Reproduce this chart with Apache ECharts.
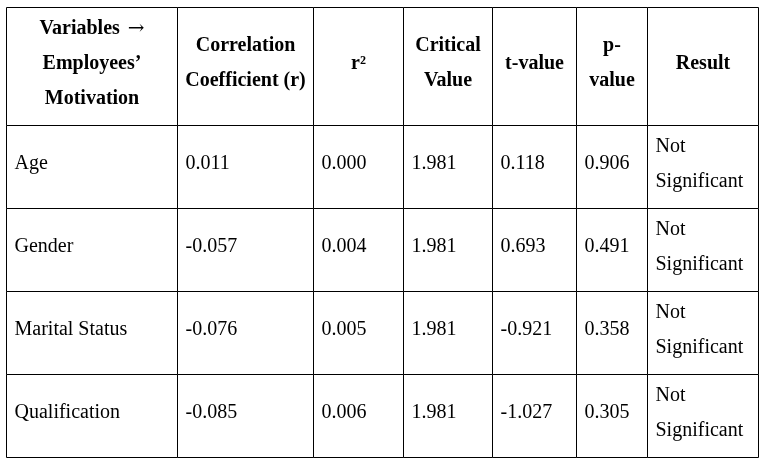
<!DOCTYPE html>
<html>
<head>
<meta charset="utf-8">
<script src="https://cdn.jsdelivr.net/npm/echarts@6/dist/echarts.min.js"></script>
<style>
  html, body { margin: 0; padding: 0; background: #fff; }
  #table { width: 765px; height: 465px; }
</style>
</head>
<body>
<div id="table"></div>
<script>
// table content
var headers = ['Variables {arrow|\u2192}\nEmployees\u2019\nMotivation', 'Correlation\nCoefficient (r)', 'r\u00b2', 'Critical\nValue', 't-value', 'p-\nvalue', 'Result'];
var variables = ['Age', 'Gender', 'Marital Status', 'Qualification'];
var corrR = ['0.011', '-0.057', '-0.076', '-0.085'];
var rSquared = ['0.000', '0.004', '0.005', '0.006'];
var criticalValue = ['1.981', '1.981', '1.981', '1.981'];
var tValue = ['0.118', '0.693', '-0.921', '-1.027'];
var pValue = ['0.906', '0.491', '0.358', '0.305'];
var result = ['Not\nSignificant', 'Not\nSignificant', 'Not\nSignificant', 'Not\nSignificant'];

// layout (table units, same as axis units)
var colEdges = [0, 171, 307, 397, 486, 570, 641, 752];
var rowEdges = [0, 118, 201, 284, 367, 450];

var columns = [variables, corrR, rSquared, criticalValue, tValue, pValue, result];

// cells: [col, row, text, isHeader]
var cells = [];
headers.forEach(function (h, c) {
    cells.push([c, 0, h, 1]);
});
for (var r = 0; r < variables.length; r++) {
    for (var c = 0; c < columns.length; c++) {
        cells.push([c, r + 1, columns[c][r], 0]);
    }
}

var myChart = echarts.init(document.getElementById('table'));

function renderCell(params, api) {
    var c = api.value(0), r = api.value(1);
    var item = cells[params.dataIndex];
    var p0 = api.coord([colEdges[c], rowEdges[r]]);
    var p1 = api.coord([colEdges[c + 1], rowEdges[r + 1]]);
    var x0 = Math.round(p0[0]) + 0.5, y0 = Math.round(p0[1]) + 0.5;
    var x1 = Math.round(p1[0]) + 0.5, y1 = Math.round(p1[1]) + 0.5;
    var head = item[3] === 1;
    return {
        type: 'group',
        children: [{
            type: 'rect',
            shape: {x: x0, y: y0, width: x1 - x0, height: y1 - y0},
            style: {fill: '#fff', stroke: '#000', lineWidth: 1}
        }, {
            type: 'text',
            style: {
                text: item[2],
                x: head ? (x0 + x1) / 2 : x0 + 8,
                y: (y0 + y1) / 2 - 3,
                align: head ? 'center' : 'left',
                verticalAlign: 'middle',
                font: (head ? 'bold ' : '') + '20px "Liberation Serif", "Times New Roman", serif',
                lineHeight: 35,
                fill: '#000',
                rich: {
                    arrow: {
                        fontFamily: 'DejaVu Serif',
                        fontWeight: 'normal',
                        fontSize: 20,
                        lineHeight: 35,
                        padding: [0, 0, 0, 3]
                    }
                }
            }
        }]
    };
}

var option = {
    backgroundColor: '#fff',
    animation: false,
    grid: {left: 6, top: 7, width: 752, height: 450},
    xAxis: {type: 'value', min: 0, max: 752, show: false},
    yAxis: {type: 'value', min: 0, max: 450, inverse: true, show: false},
    series: [{
        type: 'custom',
        renderItem: renderCell,
        encode: {x: 0, y: 1},
        data: cells.map(function (d) { return [d[0], d[1]]; })
    }]
};

myChart.setOption(option);
</script>
</body>
</html>
